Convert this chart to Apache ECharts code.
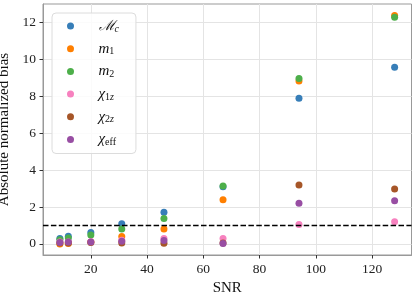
<!DOCTYPE html>
<html>
<head>
<meta charset="utf-8">
<script src="https://cdn.jsdelivr.net/npm/echarts@6/dist/echarts.min.js"></script>
<style>
html,body{margin:0;padding:0;background:#fff;}
#chart{width:415px;height:298px;}
</style>
</head>
<body>
<div id="chart"></div>
<script>
const snr = [9, 12, 20, 31, 46, 67, 94, 128];
const Mc = [0.3, 0.42, 0.62, 1.1, 1.71, 3.1, 7.89, 9.57];
const m1 = [0.0, 0.02, 0.1, 0.4, 0.81, 2.4, 8.83, 12.38];
const m2 = [0.22, 0.32, 0.48, 0.81, 1.38, 3.14, 8.96, 12.28];
const chi1z = [0.1, 0.1, 0.12, 0.2, 0.3, 0.3, 1.05, 1.2];
const chi2z = [0.05, 0.05, 0.08, 0.05, 0.04, 0.05, 3.19, 2.97];
const chieff = [0.08, 0.1, 0.1, 0.14, 0.18, 0.02, 2.2, 2.34];
const xTicks = [20, 40, 60, 80, 100, 120];
const yTicks = [0, 2, 4, 6, 8, 10, 12];
const threshold = 1;

const seriesDefs = [
  {name: 'Mc', data: Mc, color: '#377eb8'},
  {name: 'm1', data: m1, color: '#ff7f00'},
  {name: 'm2', data: m2, color: '#4daf4a'},
  {name: 'chi1z', data: chi1z, color: '#f781bf'},
  {name: 'chi2z', data: chi2z, color: '#a65628'},
  {name: 'chieff', data: chieff, color: '#984ea3'}
];
const labels = {
  Mc: '{c|ℳ}{si|c}',
  m1: '{i|m}{s|1}',
  m2: '{i|m}{s|2}',
  chi1z: '{i|χ}{s|1}{si|z}',
  chi2z: '{i|χ}{s|2}{si|z}',
  chieff: '{i|χ}{s|eff}'
};
const serif = '"Liberation Serif", "DejaVu Serif", serif';

const series = seriesDefs.map((d, k) => ({
  name: d.name,
  type: 'scatter',
  symbol: 'circle',
  symbolSize: 7,
  itemStyle: {color: d.color, opacity: 1},
  data: d.data.map((v, i) => [snr[i], v]),
  z: 2
}));
series.push({
  type: 'line',
  data: [],
  silent: true,
  z: 5,
  markLine: {
    silent: true,
    symbol: 'none',
    label: {show: false},
    lineStyle: {color: '#000', type: [5.5, 2.4], width: 1.3},
    data: [{yAxis: threshold}]
  }
});

const chart = echarts.init(document.getElementById('chart'), null, {renderer: 'canvas'});
chart.setOption({
  animation: false,
  backgroundColor: '#fff',
  grid: {left: 43, right: 3.5, top: 4, bottom: 43, outerBoundsMode: 'none', containLabel: false, show: true, borderColor: '#999', borderWidth: 1, backgroundColor: 'transparent'},
  legend: {
    orient: 'vertical',
    left: 52,
    top: 13,
    padding: [6, 17, 6, 15],
    itemWidth: 14,
    itemHeight: 7,
    itemGap: 7.2,
    icon: 'circle',
    backgroundColor: 'rgba(255,255,255,0.85)',
    borderColor: '#dcdcdc',
    borderWidth: 1,
    borderRadius: 4,
    data: seriesDefs.map(d => d.name),
    formatter: n => labels[n],
    textStyle: {
      padding: [0, 0, 0, 16],
      fontFamily: serif,
      color: '#111',
      rich: {
        c: {fontFamily: '"DejaVu Serif", serif', fontStyle: 'italic', fontSize: 14, lineHeight: 16, color: '#111'},
        i: {fontFamily: serif, fontStyle: 'italic', fontSize: 15, lineHeight: 16, color: '#111'},
        s: {fontFamily: serif, fontSize: 10, lineHeight: 8, verticalAlign: 'bottom', color: '#111'},
        si: {fontFamily: serif, fontStyle: 'italic', fontSize: 10, lineHeight: 8, verticalAlign: 'bottom', color: '#111'}
      }
    }
  },
  xAxis: {
    type: 'value',
    min: 3,
    max: 134,
    splitNumber: 6,
    name: 'SNR',
    nameLocation: 'middle',
    nameGap: 21,
    nameTextStyle: {fontFamily: serif, fontSize: 15, color: '#111'},
    axisLine: {show: true, onZero: false, lineStyle: {color: '#999', width: 1}},
    axisTick: {show: true, length: 3.5, customValues: xTicks, lineStyle: {color: '#333', width: 1}},
    axisLabel: {customValues: xTicks, margin: 7, fontFamily: serif, fontSize: 13.5, color: '#222'},
    splitLine: {show: true, lineStyle: {color: '#e4e4e4', width: 1}}
  },
  yAxis: {
    type: 'value',
    min: -0.6,
    max: 13,
    splitNumber: 7,
    name: 'Absolute normalized bias',
    nameLocation: 'middle',
    nameGap: 23,
    nameTextStyle: {fontFamily: serif, fontSize: 15, color: '#111'},
    axisLine: {show: true, onZero: false, lineStyle: {color: '#999', width: 1}},
    axisTick: {show: true, length: 3.5, customValues: yTicks, lineStyle: {color: '#333', width: 1}},
    axisLabel: {customValues: yTicks, margin: 7, fontFamily: serif, fontSize: 13.5, color: '#222'},
    splitLine: {show: true, lineStyle: {color: '#e4e4e4', width: 1}}
  },
  series: series
});
</script>
</body>
</html>
